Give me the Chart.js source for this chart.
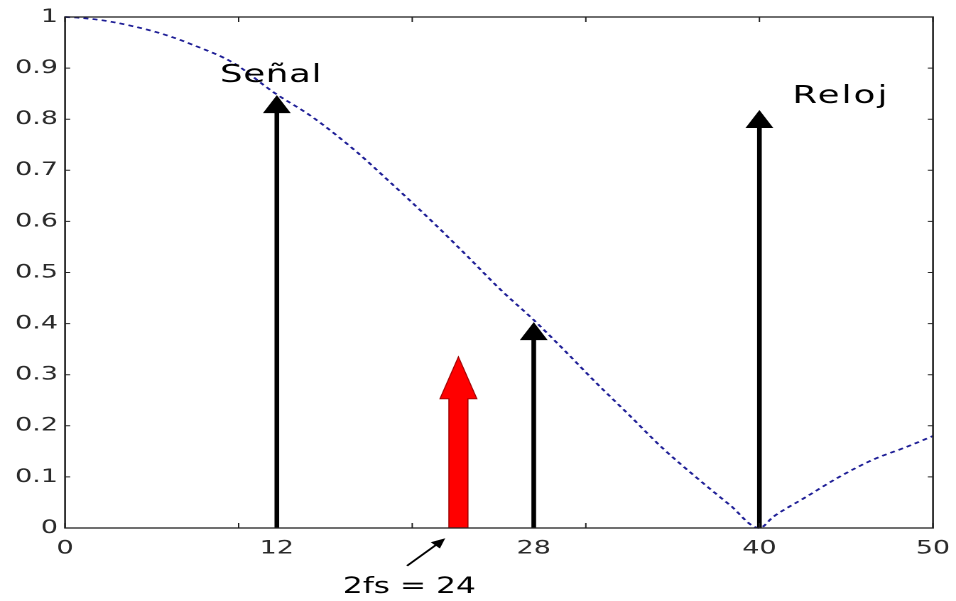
<!DOCTYPE html>
<html><head><meta charset="utf-8">
<script src="https://cdn.jsdelivr.net/npm/chart.js@4.4.0/dist/chart.umd.min.js"></script>
<style>
html,body{margin:0;padding:0;background:#fff;overflow:hidden;width:956px;height:601px;}
#wrap{width:673px;height:601px;transform:scaleX(1.4205);transform-origin:0 0;}
</style></head><body>
<div id="wrap"><canvas id="c" width="673" height="601"></canvas></div>
<script>
// Spectrum envelope
const curveX = [0, 1, 2.6, 5.5, 7.4, 9.7, 12, 14.3, 16.8, 18.3, 21.2, 23.2, 25.1, 27, 28.7, 30.6, 32.5, 34.4, 36.4, 38.3, 40, 40.8, 42.7, 44.6, 46.5, 48.5, 50];
const curveY = [1, 0.998, 0.991, 0.968, 0.945, 0.91, 0.853, 0.803, 0.736, 0.69, 0.598, 0.531, 0.466, 0.407, 0.35, 0.284, 0.221, 0.157, 0.098, 0.045, 0, 0.022, 0.061, 0.10, 0.133, 0.159, 0.18];
// Black spectral lines (arrows)
const arrowX = [12.2, 27, 40];
const arrowTop = [0.847, 0.403, 0.818];
// Red arrow (2fs)
const redArrowX = [22.66];
const redArrowTop = [0.335];
// Axis ticks
const xTickValues = [0, 12.2, 27, 40, 50];
const xTickLabels = ['0', '12', '28', '40', '50'];
const yTickValues = [0, 0.1, 0.2, 0.3, 0.4, 0.5, 0.6, 0.7, 0.8, 0.9, 1];
const yTickLabels = ['0', '0.1', '0.2', '0.3', '0.4', '0.5', '0.6', '0.7', '0.8', '0.9', '1'];
const minorXTicks = [0, 10, 20, 30, 40, 50];
const minorYTicks = [0.1, 0.2, 0.3, 0.4, 0.5, 0.6, 0.7, 0.8, 0.9];
// Text annotations (data coordinates)
const noteTexts = ['Señal', 'Reloj', '2fs = 24'];
const noteX = [8.93, 41.9, 16.0];
const noteY = [0.873, 0.832, -0.127];
const pointerFrom = [19.7, -0.074];
const pointerTo = [21.9, -0.02];

Chart.defaults.font.family = '"DejaVu Sans", "Liberation Sans", sans-serif';

const decor = {
  id: 'decor',
  afterDatasetsDraw(chart) {
    const ctx = chart.ctx, xs = chart.scales.x, ys = chart.scales.y;
    ctx.save();
    ctx.fillStyle = '#000';
    for (let i = 0; i < arrowX.length; i++) {
      const px = xs.getPixelForValue(arrowX[i]);
      const pt = ys.getPixelForValue(arrowTop[i]);
      const pb = ys.getPixelForValue(0);
      const hh = 18, hw = 9.8, sw = 3.3;
      ctx.fillRect(px - sw / 2, pt + hh - 1, sw, pb - pt - hh + 1);
      ctx.beginPath();
      ctx.moveTo(px, pt);
      ctx.lineTo(px + hw, pt + hh);
      ctx.lineTo(px - hw, pt + hh);
      ctx.closePath();
      ctx.fill();
    }
    for (let i = 0; i < redArrowX.length; i++) {
      const px = xs.getPixelForValue(redArrowX[i]);
      const pt = ys.getPixelForValue(redArrowTop[i]);
      const pb = ys.getPixelForValue(0);
      const hh = 42, hw = 13, sw = 13.4;
      ctx.beginPath();
      ctx.moveTo(px, pt);
      ctx.lineTo(px + hw, pt + hh);
      ctx.lineTo(px + sw / 2, pt + hh);
      ctx.lineTo(px + sw / 2, pb);
      ctx.lineTo(px - sw / 2, pb);
      ctx.lineTo(px - sw / 2, pt + hh);
      ctx.lineTo(px - hw, pt + hh);
      ctx.closePath();
      ctx.fillStyle = '#ff0000';
      ctx.fill();
      ctx.strokeStyle = '#a00000';
      ctx.lineWidth = 0.8;
      ctx.stroke();
    }
    ctx.restore();
  },
  afterDraw(chart) {
    const ctx = chart.ctx, xs = chart.scales.x, ys = chart.scales.y;
    const a = chart.chartArea;
    ctx.save();
    ctx.strokeStyle = '#222';
    ctx.lineWidth = 1.3;
    ctx.strokeRect(a.left, a.top, a.right - a.left, a.bottom - a.top);
    ctx.lineWidth = 1;
    ctx.beginPath();
    minorXTicks.forEach(v => {
      const px = xs.getPixelForValue(v);
      ctx.moveTo(px, a.bottom); ctx.lineTo(px, a.bottom - 5);
      ctx.moveTo(px, a.top); ctx.lineTo(px, a.top + 5);
    });
    minorYTicks.forEach(v => {
      const py = ys.getPixelForValue(v);
      ctx.moveTo(a.left, py); ctx.lineTo(a.left + 3.6, py);
      ctx.moveTo(a.right, py); ctx.lineTo(a.right - 3.6, py);
    });
    ctx.stroke();
    ctx.fillStyle = '#000';
    ctx.textAlign = 'left';
    ctx.textBaseline = 'alphabetic';
    const sizes = [25, 25, 22];
    const spacing = ['0.5px', '1.5px', '0px'];
    noteTexts.forEach((t, i) => {
      ctx.font = sizes[i] + 'px "DejaVu Sans", sans-serif';
      if ('letterSpacing' in ctx) ctx.letterSpacing = spacing[i];
      ctx.fillText(t, xs.getPixelForValue(noteX[i]), ys.getPixelForValue(noteY[i]));
    });
    if ('letterSpacing' in ctx) ctx.letterSpacing = '0px';
    const x1 = xs.getPixelForValue(pointerFrom[0]), y1 = ys.getPixelForValue(pointerFrom[1]);
    const x2 = xs.getPixelForValue(pointerTo[0]), y2 = ys.getPixelForValue(pointerTo[1]);
    const ang = Math.atan2(y2 - y1, x2 - x1);
    ctx.strokeStyle = '#000';
    ctx.lineWidth = 1.6;
    ctx.beginPath();
    ctx.moveTo(x1, y1);
    ctx.lineTo(x2 - 6 * Math.cos(ang), y2 - 6 * Math.sin(ang));
    ctx.stroke();
    ctx.beginPath();
    ctx.moveTo(x2, y2);
    ctx.lineTo(x2 - 10 * Math.cos(ang) + 4.5 * Math.sin(ang), y2 - 10 * Math.sin(ang) - 4.5 * Math.cos(ang));
    ctx.lineTo(x2 - 10 * Math.cos(ang) - 4.5 * Math.sin(ang), y2 - 10 * Math.sin(ang) + 4.5 * Math.cos(ang));
    ctx.closePath();
    ctx.fillStyle = '#000';
    ctx.fill();
    ctx.restore();
  }
};

new Chart(document.getElementById('c'), {
  type: 'line',
  data: {
    datasets: [{
      data: curveX.map((x, i) => ({ x: x, y: curveY[i] })),
      borderColor: '#1e1e96',
      borderWidth: 1.7,
      borderDash: [3.5, 3],
      pointRadius: 0,
      cubicInterpolationMode: 'monotone',
      fill: false,
      clip: 4
    }]
  },
  options: {
    responsive: false,
    devicePixelRatio: 2,
    animation: false,
    layout: { padding: { top: 17, right: 16.2, left: 0, bottom: 0 } },
    plugins: { legend: { display: false }, tooltip: { enabled: false } },
    scales: {
      x: {
        type: 'linear', min: 0, max: 50,
        grid: { display: false, drawTicks: false },
        border: { display: false },
        afterBuildTicks: s => { s.ticks = xTickValues.map(v => ({ value: v })); },
        afterFit: s => { s.height = 73; s.paddingLeft = 0; s.paddingRight = 0; },
        ticks: {
          autoSkip: false, maxRotation: 0, padding: 9,
          color: '#2a2a2a', font: { size: 19 },
          callback: (v, i) => xTickLabels[i]
        }
      },
      y: {
        type: 'linear', min: 0, max: 1,
        grid: { display: false, drawTicks: false },
        border: { display: false },
        afterBuildTicks: s => { s.ticks = yTickValues.map(v => ({ value: v })); },
        afterFit: s => { s.width = 45.8; s.paddingTop = 0; s.paddingBottom = 0; },
        ticks: {
          autoSkip: false, padding: 5,
          color: '#2a2a2a', font: { size: 19 },
          callback: (v, i) => yTickLabels[i]
        }
      }
    }
  },
  plugins: [decor]
});
</script>
</body></html>
